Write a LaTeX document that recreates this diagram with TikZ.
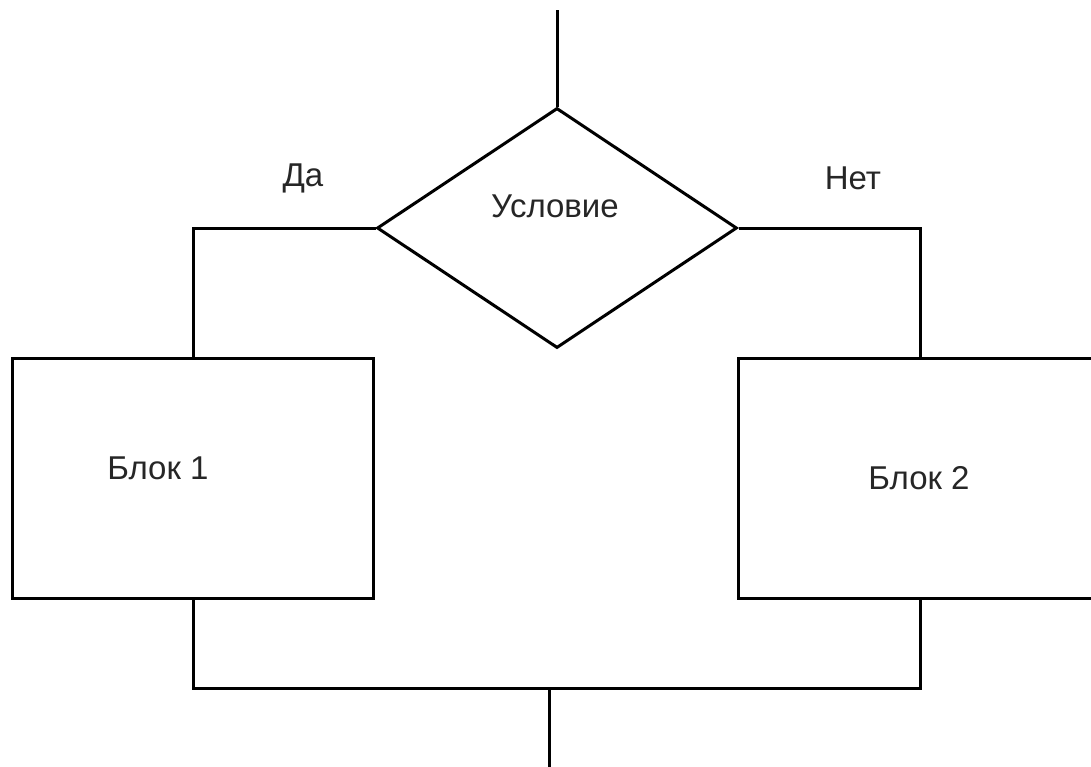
\documentclass[tikz,border=0pt]{standalone}
\usepackage{fontspec}
\setmainfont{Liberation Sans}
\usetikzlibrary{shapes.geometric}
\begin{document}
\begin{tikzpicture}[x=1pt,y=-1pt,
  line/.style={line width=3pt,black,line join=miter},
  blockbox/.style={draw,line width=3pt,rectangle,minimum width=361pt,minimum height=240pt,inner sep=0pt},
  condbox/.style={draw,line width=3pt,diamond,minimum width=360pt,minimum height=240pt,inner sep=0pt},
  lbl/.style={font=\fontsize{33}{38}\selectfont,inner sep=0pt,text=black!85}]
\useasboundingbox (0,0) rectangle (1091,766);
\node[condbox] (cond) at (557,228) {};
\node[blockbox] (b1) at (193,478) {};
\node[blockbox,minimum width=364pt] (b2) at (920,478) {};
\node[lbl] (tcond) at (555,206) {Условие};
\node[lbl] (tb1) at (158,468) {Блок 1};
\node[lbl] (tb2) at (919,478) {Блок 2};
\node[lbl] (tyes) at (303,178) {Да};
\node[lbl] (tno) at (853,178) {Нет};
\coordinate (top) at (557,10);
\coordinate (join) at (549,688);
\coordinate (bottom) at (549,770);
\draw[line] (top) -- (cond.north);
\draw[line] (cond.west) -| (b1.north);
\draw[line] (cond.east) -| (b2.north);
\draw[line] (b1.south) |- (join);
\draw[line] (b2.south) |- (join);
\draw[line] (join) -- (bottom);
\end{tikzpicture}
\end{document}
